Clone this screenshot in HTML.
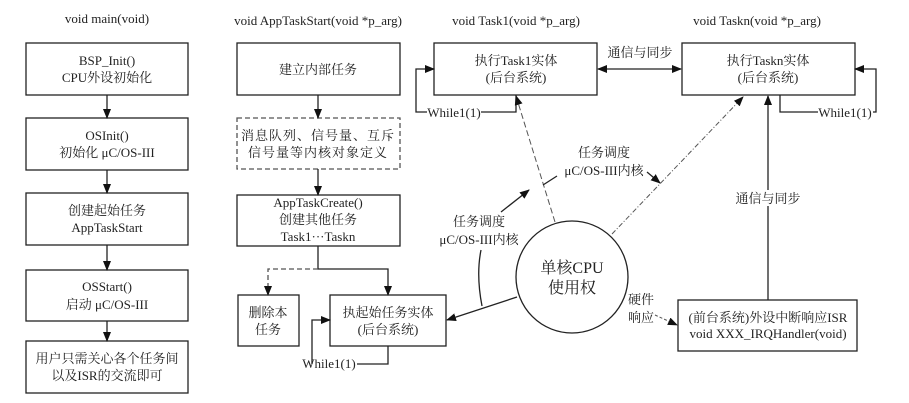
<!DOCTYPE html>
<html><head><meta charset="utf-8"><style>
html,body{margin:0;padding:0;background:#fff;}
svg{display:block;}
text{font-family:"Liberation Serif","Noto Serif CJK SC",serif;font-size:13px;fill:#222;}
</style></head><body>
<svg width="909" height="403" viewBox="0 0 909 403" xmlns="http://www.w3.org/2000/svg">
<defs>
<marker id="a" markerWidth="10" markerHeight="8" refX="9" refY="4" orient="auto" markerUnits="userSpaceOnUse">
<path d="M0,0 L10,4 L0,8 Z" fill="#111"/></marker>
<marker id="s" markerWidth="10" markerHeight="8" refX="1" refY="4" orient="auto" markerUnits="userSpaceOnUse">
<path d="M10,0 L0,4 L10,8 Z" fill="#111"/></marker>
</defs>
<g fill="none" stroke="#222" stroke-width="1.3">
<!-- left column -->
<rect x="26" y="43" width="162" height="52"/>
<rect x="26" y="118" width="162" height="52"/>
<rect x="26" y="193" width="162" height="52"/>
<rect x="26" y="270" width="162" height="51"/>
<rect x="26" y="341" width="162" height="52"/>
<line x1="107" y1="95" x2="107" y2="118" marker-end="url(#a)"/>
<line x1="107" y1="170" x2="107" y2="193" marker-end="url(#a)"/>
<line x1="107" y1="245" x2="107" y2="270" marker-end="url(#a)"/>
<line x1="107" y1="321" x2="107" y2="341" marker-end="url(#a)"/>
<!-- second column -->
<rect x="237" y="43" width="163" height="52"/>
<rect x="237" y="118" width="163" height="51" stroke-dasharray="5,3" stroke="#555"/>
<rect x="237" y="195" width="163" height="51"/>
<line x1="318" y1="95" x2="318" y2="118" marker-end="url(#a)"/>
<line x1="318" y1="169" x2="318" y2="195" marker-end="url(#a)"/>
<polyline points="318,246 318,269 388,269 388,295" marker-end="url(#a)"/>
<polyline points="318,269 268,269 268,295" stroke-dasharray="5,3" stroke="#555" marker-end="url(#a)"/>
<rect x="238" y="295" width="61" height="51"/>
<rect x="330" y="295" width="116" height="51"/>
<polyline points="388,346 388,364 357,364"/>
<polyline points="312,364 312,320 330,320" marker-end="url(#a)"/>
<!-- task boxes -->
<rect x="434" y="43" width="163" height="52"/>
<rect x="682" y="43" width="173" height="52"/>
<line x1="598" y1="69" x2="681" y2="69" marker-start="url(#s)" marker-end="url(#a)"/>
<polyline points="516,95 516,112 481,112"/>
<polyline points="427,112 416,112 416,69 434,69" marker-end="url(#a)"/>
<polyline points="780,95 780,112 818,112"/>
<polyline points="873,112 876,112 876,69 855,69" marker-end="url(#a)"/>
<!-- circle -->
<circle cx="572" cy="277" r="56"/>
<line x1="555" y1="222" x2="516" y2="96" stroke-dasharray="6,3" stroke="#555" stroke-width="1" marker-end="url(#a)"/>
<line x1="612" y1="234" x2="743" y2="97" stroke-dasharray="5,2,1,2" stroke="#555" stroke-width="1" marker-end="url(#a)"/>
<line x1="543" y1="185" x2="557" y2="176"/>
<line x1="647" y1="172" x2="660" y2="183" marker-end="url(#a)"/>
<path d="M482,306 Q476,275 481,250"/>
<line x1="501" y1="212" x2="529" y2="190" marker-end="url(#a)"/>
<line x1="517" y1="297" x2="447" y2="320" marker-end="url(#a)"/>
<!-- ISR -->
<rect x="678" y="300" width="179" height="51"/>
<line x1="768" y1="300" x2="768" y2="206"/>
<line x1="768" y1="190" x2="768" y2="96" marker-end="url(#a)"/>
<line x1="655" y1="315" x2="677" y2="325" stroke-dasharray="3,2" stroke="#555" stroke-width="1" marker-end="url(#a)"/>
</g>
<g text-anchor="middle">
<text x="107" y="23">void main(void)</text>
<text x="107" y="65">BSP_Init()</text>
<text x="107" y="82">CPU外设初始化</text>
<text x="107" y="140">OSInit()</text>
<text x="107" y="157">初始化 μC/OS-III</text>
<text x="107" y="215">创建起始任务</text>
<text x="107" y="232">AppTaskStart</text>
<text x="107" y="291">OSStart()</text>
<text x="107" y="309">启动 μC/OS-III</text>
<text x="107" y="363">用户只需关心各个任务间</text>
<text x="107" y="380">以及ISR的交流即可</text>
<text x="318" y="25">void AppTaskStart(void *p_arg)</text>
<text x="318" y="74">建立内部任务</text>
<text x="318" y="140" letter-spacing="1">消息队列、信号量、互斥</text>
<text x="318" y="157" letter-spacing="1">信号量等内核对象定义</text>
<text x="318" y="207">AppTaskCreate()</text>
<text x="318" y="224">创建其他任务</text>
<text x="318" y="241">Task1···Taskn</text>
<text x="268" y="317">删除本</text>
<text x="268" y="334">任务</text>
<text x="388" y="317">执起始任务实体</text>
<text x="388" y="334">(后台系统)</text>
<text x="329" y="368">While1(1)</text>
<text x="516" y="25">void Task1(void *p_arg)</text>
<text x="516" y="65">执行Task1实体</text>
<text x="516" y="82">(后台系统)</text>
<text x="757" y="25">void Taskn(void *p_arg)</text>
<text x="768" y="65">执行Taskn实体</text>
<text x="768" y="82">(后台系统)</text>
<text x="640" y="57">通信与同步</text>
<text x="454" y="117">While1(1)</text>
<text x="845" y="117">While1(1)</text>
<text x="604" y="157">任务调度</text>
<text x="604" y="175">μC/OS-III内核</text>
<text x="479" y="226">任务调度</text>
<text x="479" y="244">μC/OS-III内核</text>
<text x="572" y="273" style="font-size:16px">单核CPU</text>
<text x="572" y="293" style="font-size:16px">使用权</text>
<text x="641" y="304">硬件</text>
<text x="641" y="322">响应</text>
<text x="768" y="203">通信与同步</text>
<text x="768" y="322">(前台系统)外设中断响应ISR</text>
<text x="768" y="338">void XXX_IRQHandler(void)</text>
</g>
</svg>
</body></html>
